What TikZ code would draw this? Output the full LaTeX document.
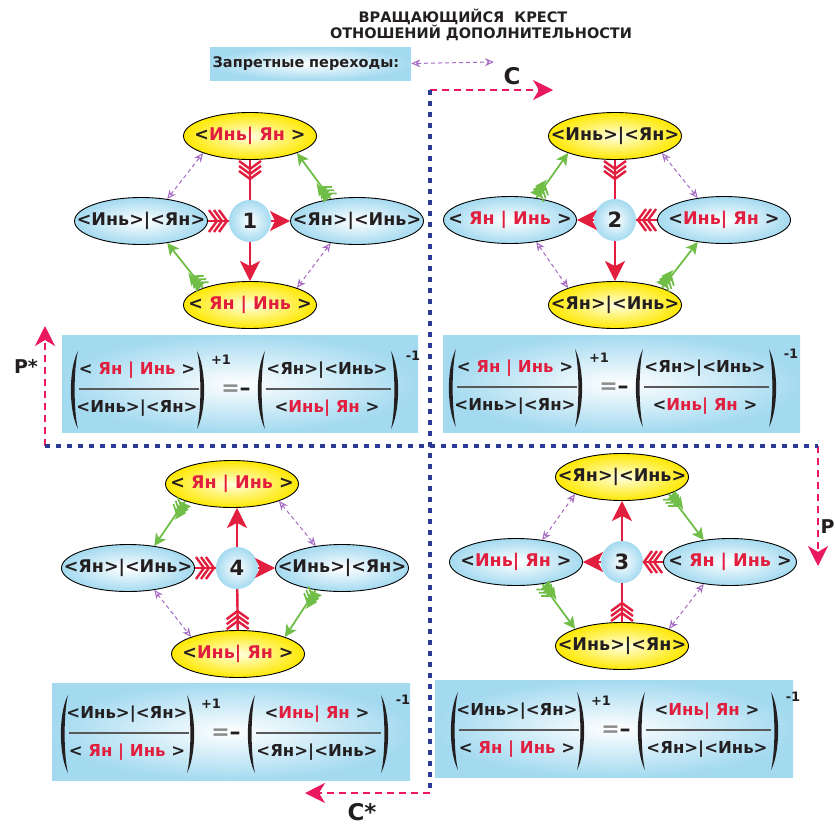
\documentclass[tikz,border=0pt]{standalone}
\usepackage{fontspec}
\setmainfont{DejaVu Sans}
\usepackage{tikz}
\usetikzlibrary{arrows.meta,shapes.geometric,decorations.markings}

\definecolor{yred}{RGB}{226,30,62}
\definecolor{ygreen}{RGB}{112,190,72}
\definecolor{ypurple}{RGB}{165,105,195}
\definecolor{yblue}{RGB}{44,58,150}
\definecolor{ypink}{RGB}{234,24,96}
\definecolor{yyellow}{RGB}{255,232,0}
\definecolor{ysky}{RGB}{164,218,240}
\definecolor{ytext}{RGB}{35,31,32}

% bra-ket labels
\newcommand{\YinYan}{\makebox[0pt]{<Инь>|<Ян>}}
\newcommand{\YanYin}{\makebox[0pt]{<Ян>|<Инь>}}
\newcommand{\KetYinYan}{\makebox[0pt]{<\textcolor{yred}{Инь| Ян} >}}
\newcommand{\KetYanYin}{\makebox[0pt]{< \textcolor{yred}{Ян | Инь} >}}

% big round brackets
\newcommand{\parL}[3]{\fill[ytext] (#1+8,#2) .. controls (#1-1.5,#2+18) and (#1-1.5,#3-18) .. (#1+8,#3)
  .. controls (#1+3.5,#3-18) and (#1+3.5,#2+18) .. (#1+8,#2);}
\newcommand{\parR}[3]{\fill[ytext] (#1,#2) .. controls (#1+9.5,#2+18) and (#1+9.5,#3-18) .. (#1,#3)
  .. controls (#1+4.5,#3-18) and (#1+4.5,#2+18) .. (#1,#2);}

% ( a / b )^{+1} = - ( c / d )^{-1}
\newcommand{\yyratio}[7]{%
  \parL{#2}{#3-38}{#3+40}
  \path (#2+67,#3-19) node[frm] (#1a) {#4};
  \draw[fracline] (#2+9,#3) -- (#2+129,#3);
  \path (#2+67,#3+19) node[frm] (#1b) {#5};
  \parR{#2+127}{#3-38}{#3+40}
  \path (#2+151,#3-29) node[expo] (#1p) {+1};
  \path (#2+166,#3+1) node[eqs] (#1eq) {=\textcolor{ytext}{–}};
  \parL{#2+187}{#3-38}{#3+40}
  \path (#2+257,#3-19) node[frm] (#1c) {#6};
  \draw[fracline] (#2+196,#3) -- (#2+321,#3);
  \path (#2+257,#3+19) node[frm] (#1d) {#7};
  \parR{#2+321}{#3-38}{#3+40}
  \path (#2+343,#3-33) node[expo] (#1m) {-1};
}

\tikzset{
  lbl/.style={font=\bfseries\fontsize{17.5}{17.5}\selectfont, text=ytext, inner sep=0pt},
  frm/.style={font=\bfseries\fontsize{16.5}{16.5}\selectfont, text=ytext, inner sep=0pt},
  sun/.style={ellipse, draw=black, line width=0.9pt, minimum width=133pt, minimum height=47pt,
    inner sep=0pt, inner color=yellow!12!white, outer color=yyellow, lbl},
  sky/.style={ellipse, draw=black, line width=0.9pt, minimum width=133pt, minimum height=47pt,
    inner sep=0pt, inner color=white, outer color=ysky, lbl},
  hub/.style={circle, minimum size=42pt, inner sep=0pt, inner color=white, outer color=ysky,
    text=ytext, font=\bfseries\fontsize{21}{21}\selectfont},
  ratiobox/.style={inner color=white, outer color=ysky},
  fracline/.style={draw=black!65, line width=1.4pt},
  expo/.style={font=\bfseries\fontsize{13}{13}\selectfont, text=ytext, inner sep=0pt},
  eqs/.style={font=\bfseries\fontsize{22}{22}\selectfont, text=black!45, inner sep=0pt},
  title/.style={font=\bfseries\fontsize{14.5}{14.5}\selectfont, text=ytext, inner sep=0pt},
  oplbl/.style={font=\bfseries\fontsize{23}{23}\selectfont, text=ytext, inner sep=0pt},
  redhead/.style={draw=yred, line width=2.4pt, -{Stealth[length=20pt, width=20pt, inset=5pt]}},
  redtail/.style={draw=yred, line width=2.4pt, postaction={decorate, decoration={markings,
    mark=at position 1pt with {\foreach \v in {8,13,18}
      {\draw[yred, line width=2.4pt] (\v-8,11) -- (\v,0) -- (\v-8,-11);}}}}},
  greentail/.style={draw=ygreen, line width=1.8pt, -{Stealth[length=12pt, width=12pt, inset=3pt]},
    postaction={decorate, decoration={markings,
    mark=at position 1pt with {\foreach \v in {6,10,14}
      {\draw[ygreen, line width=1.7pt] (\v-6,8) -- (\v,0) -- (\v-6,-8);}}}}},
  forbid/.style={draw=ypurple, line width=1pt, dash pattern=on 4pt off 3pt,
    {Stealth[open, length=9pt, width=8pt, inset=3pt]}-{Stealth[open, length=9pt, width=8pt, inset=3pt]}},
  pinkdash/.style={draw=ypink, line width=1.8pt, dash pattern=on 7pt off 5pt,
    -{Stealth[length=20pt, width=20pt, inset=6pt]}},
  crossline/.style={draw=yblue, line width=4.5pt, dash pattern=on 5pt off 6pt},
}

\begin{document}
\begin{tikzpicture}[x=1pt, y=-1pt]

\useasboundingbox (0,0) rectangle (835,825);

% Title
\path (463,17) node[title] (head1) {ВРАЩАЮЩИЙСЯ\ \ КРЕСТ};
\path (481,33) node[title] (head2) {ОТНОШЕНИЙ ДОПОЛНИТЕЛЬНОСТИ};

% Legend
\path (210,63.5) node[anchor=west, ratiobox, title, minimum height=33pt, text width=196pt,
  inner xsep=2.5pt, align=left] (legend) {Запретные переходы:};
\coordinate (fbEnd) at (494,62);
\draw[forbid] (legend.east) -- (fbEnd);

%
% Rotating cross
%
\coordinate (crossN) at (430,90);
\coordinate (crossS) at (430,793);
\coordinate (crossW) at (45,446);
\coordinate (crossE) at (818,446);

\coordinate (cTip) at (553,90);
\coordinate (pTip) at (818,566);
\coordinate (csTip) at (305,793);
\coordinate (psTip) at (45,326);

\draw[pinkdash] (crossN) -- (cTip);
\draw[pinkdash] (crossE) -- (pTip);
\draw[pinkdash] (crossS) -- (csTip);
\draw[pinkdash] (crossW) -- (psTip);

\draw[crossline] (crossN) -- (crossS);
\draw[crossline] (crossW) -- (crossE);

\path (512,76) node[oplbl] (cLbl) {C};
\path (827.5,527) node[oplbl, font=\bfseries\fontsize{19}{19}\selectfont] (pLbl) {P};
\path (362,812) node[oplbl] (csLbl) {C*};
\path (26,366) node[oplbl, font=\bfseries\fontsize{19}{19}\selectfont] (psLbl) {P*};

%
% Quadrant 1
%
\path (250,136) node[sun] (top1) {\KetYinYan};
\path (141,221) node[sky] (lft1) {\YinYan};
\path (357,221) node[sky] (rgt1) {\YanYin};
\path (250,305) node[sun] (bot1) {\KetYanYin};
\path (250,221) node[hub] (hub1) {1};

\draw[redtail] (top1) -- (hub1);
\draw[redtail] (lft1) -- (hub1);
\draw[redhead] (hub1) -- (rgt1);
\draw[redhead] (hub1) -- (bot1);
\draw[greentail] (bot1.160) -- (lft1.-40);
\draw[greentail] (rgt1.140) -- (top1.-20);
\draw[forbid] (lft1.40) -- (top1.200);
\draw[forbid] (rgt1.-140) -- (bot1.20);

%
% Quadrant 2
%
\path (615,136) node[sun] (top2) {\YinYan};
\path (510,220) node[sky] (lft2) {\KetYanYin};
\path (724,220) node[sky] (rgt2) {\KetYinYan};
\path (615,305) node[sun] (bot2) {\YanYin};
\path (615,220) node[hub] (hub2) {2};

\draw[redtail] (top2) -- (hub2);
\draw[redtail] (rgt2) -- (hub2);
\draw[redhead] (hub2) -- (lft2);
\draw[redhead] (hub2) -- (bot2);
\draw[greentail] (lft2.40) -- (top2.200);
\draw[greentail] (bot2.20) -- (rgt2.-140);
\draw[forbid] (top2.-20) -- (rgt2.140);
\draw[forbid] (lft2.-40) -- (bot2.160);

%
% Quadrant 3
%
\path (622,477) node[sun] (top3) {\YanYin};
\path (516,562) node[sky] (lft3) {\KetYinYan};
\path (730,562) node[sky] (rgt3) {\KetYanYin};
\path (622,646) node[sun] (bot3) {\YinYan};
\path (622,562) node[hub] (hub3) {3};

\draw[redtail] (rgt3) -- (hub3);
\draw[redtail] (bot3) -- (hub3);
\draw[redhead] (hub3) -- (lft3);
\draw[redhead] (hub3) -- (top3);
\draw[greentail] (top3.-20) -- (rgt3.140);
\draw[greentail] (lft3.-40) -- (bot3.160);
\draw[forbid] (lft3.40) -- (top3.200);
\draw[forbid] (rgt3.-140) -- (bot3.20);

%
% Quadrant 4
%
\path (232,484) node[sun] (top4) {\KetYanYin};
\path (128,568) node[sky] (lft4) {\YanYin};
\path (342,568) node[sky] (rgt4) {\YinYan};
\path (238,654) node[sun] (bot4) {\KetYinYan};
\path (237,568) node[hub] (hub4) {4};

\draw[redtail] (lft4) -- (hub4);
\draw[redtail] (bot4) -- (hub4);
\draw[redhead] (hub4) -- (hub4 |- top4.south);
\draw[redhead] (hub4) -- (rgt4);
\draw[greentail] (top4.200) -- (lft4.40);
\draw[greentail] (rgt4.-140) -- (bot4.20);
\draw[forbid] (top4.-20) -- (rgt4.140);
\draw[forbid] (lft4.-40) -- (bot4.160);

%
% Ratio boxes
%
\shade[ratiobox] (62,335) rectangle (418,432);
\yyratio{ra}{70}{389}{\KetYanYin}{\YinYan}{\YanYin}{\KetYinYan}

\shade[ratiobox] (443,335) rectangle (800,432);
\yyratio{rb}{448}{387}{\KetYanYin}{\YinYan}{\YanYin}{\KetYinYan}

\shade[ratiobox] (52,683) rectangle (410,780);
\yyratio{rd}{60}{733}{\YinYan}{\KetYanYin}{\KetYinYan}{\YanYin}

\shade[ratiobox] (435,680) rectangle (793,777);
\yyratio{rc}{450}{730}{\YinYan}{\KetYanYin}{\KetYinYan}{\YanYin}

\end{tikzpicture}
\end{document}
